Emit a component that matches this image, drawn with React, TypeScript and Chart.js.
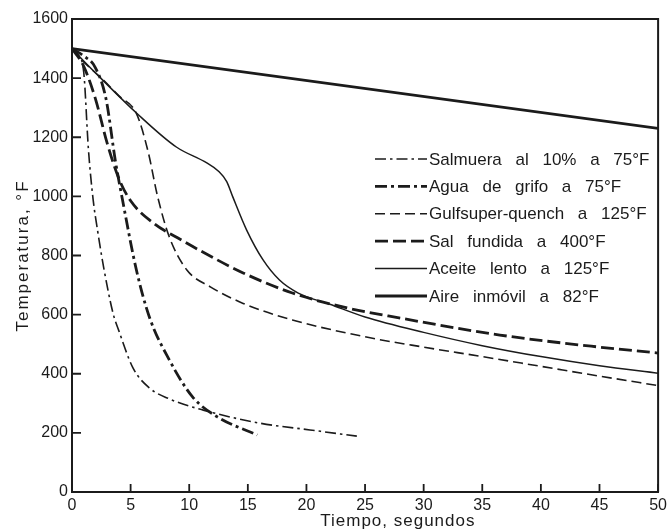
import React, { useEffect, useRef } from "react";
import { Chart, registerables } from "chart.js";

Chart.register(...registerables);

// ---- Data (time in seconds, temperature in °F) ----
const salmueraTime = [0, 0.5, 1, 1.4, 1.8, 2.2, 2.7, 3.5, 4, 5.2, 6.6, 8.3, 11.2, 16, 20.3, 24.3];
const salmueraTemp = [1500, 1480, 1420, 1160, 990, 880, 760, 605, 545, 420, 352, 315, 277, 233, 210, 189];

const aguaTime = [0, 1, 2, 2.9, 3.7, 4.3, 5.5, 6.6, 8.3, 10.3, 12.4, 15.8];
const aguaTemp = [1500, 1475, 1435, 1330, 1120, 990, 750, 592, 447, 321, 254, 193];

const gulfTime = [0, 1, 2.5, 4, 5.5, 6.5, 7.3, 8.3, 9.8, 11.8, 14.6, 18.8, 25, 30, 35, 40, 45, 50];
const gulfTemp = [1500, 1455, 1400, 1340, 1280, 1150, 1000, 863, 751, 694, 638, 582, 525, 490, 458, 425, 392, 360];

const salTime = [0, 1, 2, 3, 4, 5, 7, 9, 11, 14.6, 18.8, 23.1, 27.9, 36.5, 45, 50];
const salTemp = [1500, 1440, 1330, 1180, 1060, 985, 908, 860, 815, 741, 673, 626, 589, 531, 490, 470];

const aceiteTime = [0, 1, 2.6, 5.5, 8.9, 11.5, 12.5, 13.2, 13.7, 14.9, 16.3, 17.7, 19.3, 22, 25, 30, 35, 40, 45, 50];
const aceiteTemp = [1500, 1458, 1394, 1282, 1167, 1113, 1085, 1050, 1000, 886, 785, 717, 673, 635, 592, 540, 495, 458, 427, 402];

const aireTime = [0, 50];
const aireTemp = [1500, 1230];

const seriesLabels = [
  "Salmuera al 10% a 75°F",
  "Agua de grifo a 75°F",
  "Gulfsuper-quench a 125°F",
  "Sal fundida a 400°F",
  "Aceite lento a 125°F",
  "Aire inmóvil a 82°F",
];

const xTickValues = [0, 5, 10, 15, 20, 25, 30, 35, 40, 45, 50];
const yTickValues = [0, 200, 400, 600, 800, 1000, 1200, 1400, 1600];

const xTitle = "Tiempo, segundos";
const yTitle = "Temperatura, °F";

// ---- Styles ----
const INK = "#1b1b1b";
const FONT = '"Liberation Sans", Arial, Helvetica, sans-serif';

const seriesStyles = [
  { width: 1.6, dash: [11, 4, 2.5, 4] },
  { width: 2.8, dash: [12, 4, 3, 4] },
  { width: 1.6, dash: [10, 5] },
  { width: 2.8, dash: [13, 5] },
  { width: 1.5, dash: [] as number[] },
  { width: 2.8, dash: [] as number[] },
];

const seriesData = [
  [salmueraTime, salmueraTemp],
  [aguaTime, aguaTemp],
  [gulfTime, gulfTemp],
  [salTime, salTemp],
  [aceiteTime, aceiteTemp],
  [aireTime, aireTemp],
];

function toPoints(xs: number[], ys: number[]) {
  return xs.map((x, i) => ({ x, y: ys[i] }));
}

const decorPlugin = {
  id: "decor",
  afterDraw(chart: any) {
    const ctx = chart.ctx as CanvasRenderingContext2D;
    const { left, right, top, bottom } = chart.chartArea;
    const xs = chart.scales.x;
    const ys = chart.scales.y;
    ctx.save();
    ctx.strokeStyle = INK;
    ctx.fillStyle = INK;

    // frame top and right
    ctx.lineWidth = 2;
    ctx.setLineDash([]);
    ctx.beginPath();
    ctx.moveTo(left, top);
    ctx.lineTo(right, top);
    ctx.lineTo(right, bottom);
    ctx.stroke();

    // inner tick marks
    ctx.lineWidth = 1.8;
    ctx.beginPath();
    xTickValues.forEach((v) => {
      const p = xs.getPixelForValue(v);
      ctx.moveTo(p, bottom);
      ctx.lineTo(p, bottom - 8);
    });
    yTickValues.forEach((v) => {
      const p = ys.getPixelForValue(v);
      ctx.moveTo(left, p);
      ctx.lineTo(left + 9, p);
    });
    ctx.stroke();

    // axis titles
    ctx.font = `17px ${FONT}`;
    (ctx as any).letterSpacing = "1px";
    ctx.textAlign = "center";
    ctx.textBaseline = "middle";
    ctx.fillText(xTitle, xs.getPixelForValue(27.8), bottom + 29);

    ctx.save();
    (ctx as any).letterSpacing = "2px";
    ctx.translate(left - 49, (top + bottom) / 2);
    ctx.rotate(-Math.PI / 2);
    ctx.fillText(yTitle, 0, 0);
    ctx.restore();

    // legend
    (ctx as any).letterSpacing = "0px";
    (ctx as any).wordSpacing = "9px";
    ctx.font = `17px ${FONT}`;
    ctx.textAlign = "left";
    const lx0 = left + 303;
    const lx1 = left + 355;
    const tx = left + 357;
    const ly0 = top + 140;
    const step = 27.4;
    seriesLabels.forEach((label, i) => {
      const y = ly0 + i * step;
      const st = seriesStyles[i];
      ctx.lineWidth = st.width;
      ctx.setLineDash(st.dash);
      ctx.beginPath();
      ctx.moveTo(lx0, y);
      ctx.lineTo(lx1, y);
      ctx.stroke();
      ctx.setLineDash([]);
      ctx.fillText(label, tx, y + 1);
    });
    (ctx as any).wordSpacing = "0px";
    ctx.restore();
  },
};

export default function App() {
  const canvasRef = useRef<HTMLCanvasElement | null>(null);

  useEffect(() => {
    if (!canvasRef.current) return;
    const datasets = seriesData.map(([xs, ys], i) => ({
      label: seriesLabels[i],
      data: toPoints(xs, ys),
      borderColor: INK,
      backgroundColor: INK,
      borderWidth: seriesStyles[i].width,
      borderDash: seriesStyles[i].dash,
      pointRadius: 0,
      fill: false,
      cubicInterpolationMode: "monotone" as const,
      tension: 0.4,
    }));

    const chart = new Chart(canvasRef.current, {
      type: "line",
      data: { datasets },
      options: {
        animation: false,
        responsive: false,
        maintainAspectRatio: false,
        layout: { padding: { top: 19, right: 12, left: 0, bottom: 0 } },
        plugins: {
          legend: { display: false },
          tooltip: { enabled: false },
        },
        scales: {
          x: {
            type: "linear",
            min: 0,
            max: 50,
            afterFit: (s: any) => {
              s.height = 40;
            },
            afterBuildTicks: (s: any) => {
              s.ticks = xTickValues.map((v) => ({ value: v }));
            },
            ticks: {
              color: INK,
              font: { size: 16, family: FONT },
              padding: 4,
              maxRotation: 0,
              autoSkip: false,
              callback: (v: any) => String(v),
            },
            grid: { display: false, drawTicks: false },
            border: { display: true, color: INK, width: 2 },
          },
          y: {
            type: "linear",
            min: 0,
            max: 1600,
            afterFit: (s: any) => {
              s.width = 72;
            },
            afterBuildTicks: (s: any) => {
              s.ticks = yTickValues.map((v) => ({ value: v }));
            },
            ticks: {
              color: INK,
              font: { size: 16, family: FONT },
              padding: 4,
              autoSkip: false,
              callback: (v: any) => String(v),
            },
            grid: { display: false, drawTicks: false },
            border: { display: true, color: INK, width: 2 },
          },
        },
      },
      plugins: [decorPlugin],
    });
    return () => chart.destroy();
  }, []);

  return (
    <div
      style={{
        position: "fixed",
        left: 0,
        top: 0,
        width: 671,
        height: 532,
        background: "#fff",
      }}
    >
      <canvas ref={canvasRef} width={671} height={532} style={{ display: "block" }} />
    </div>
  );
}
